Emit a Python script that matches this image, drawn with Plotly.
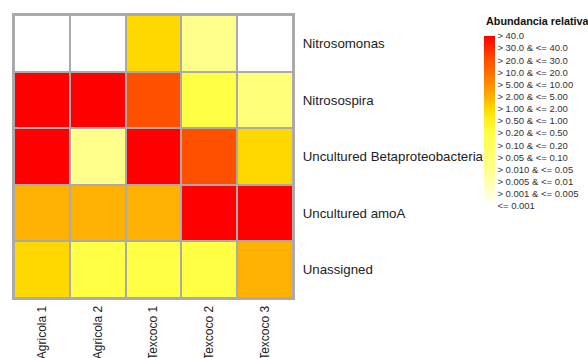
import numpy as np
import plotly.graph_objects as go

# Samples (columns) and taxa (rows)
samples = ["Agricola 1", "Agricola 2", "Texcoco 1", "Texcoco 2", "Texcoco 3"]
taxa = ["Nitrosomonas", "Nitrosospira", "Uncultured Betaproteobacteria",
        "Uncultured amoA", "Unassigned"]

# Relative abundance (%) per taxon, one list per row
nitrosomonas = [0.0005, 0.0005, 1.5, 0.03, 0.0005]
nitrosospira = [55.0, 52.0, 25.0, 0.3, 0.08]
betaproteobacteria = [48.0, 0.03, 50.0, 25.0, 1.5]
amoa = [3.0, 3.0, 3.0, 42.0, 45.0]
unassigned = [1.5, 0.3, 0.3, 0.3, 3.0]

# Class boundaries of the abundance scale and their labels (low -> high)
bin_edges = [0.001, 0.005, 0.01, 0.05, 0.10, 0.20, 0.50, 1.00, 2.00, 5.00,
             10.0, 20.0, 30.0, 40.0]
bin_labels = ["<= 0.001", "> 0.001 & <= 0.005", "> 0.005 & <= 0.01",
              "> 0.010 & <= 0.05", "> 0.05 & <= 0.10", "> 0.10 & <= 0.20",
              "> 0.20 & <= 0.50", "> 0.50 & <= 1.00", "> 1.00 & <= 2.00",
              "> 2.00 & <= 5.00", "> 5.00 & <= 10.00", "> 10.0 & <= 20.0",
              "> 20.0 & <= 30.0", "> 30.0 & <= 40.0", "> 40.0"]
bin_colors = ["#FFFFFF", "#FFFFD8", "#FFFFB0", "#FFFF8C", "#FFFF78", "#FFFF5A",
              "#FFFF44", "#FFF020", "#FFD800", "#FFB000", "#FF8E00", "#FF6C00",
              "#FF5000", "#FF2800", "#FF0000"]

values = np.array([nitrosomonas, nitrosospira, betaproteobacteria, amoa, unassigned])
# Class index of each cell (value <= edge belongs to the lower class)
classes = np.searchsorted(bin_edges, values, side="left")

n = len(bin_labels)
colorscale = [[i / (n - 1), c] for i, c in enumerate(bin_colors)]

hover = [[f"{taxa[r]}<br>{samples[c]}<br>{values[r, c]}" for c in range(len(samples))]
         for r in range(len(taxa))]

FONT = "Liberation Sans, Arial, sans-serif"

fig = go.Figure(go.Heatmap(
    z=classes,
    x=samples,
    y=taxa,
    text=hover,
    hoverinfo="text",
    colorscale=colorscale,
    zmin=0,
    zmax=n - 1,
    xgap=2,
    ygap=2,
    colorbar=dict(
        x=1.6855,
        xanchor="left",
        y=0.926,
        yanchor="top",
        lenmode="pixels",
        len=170,
        thicknessmode="pixels",
        thickness=11,
        outlinewidth=0,
        xpad=0,
        ypad=0,
        tickmode="array",
        tickvals=list(range(n)),
        ticktext=bin_labels,
        ticks="",
        tickfont=dict(family=FONT, size=9.5, color="#333333"),
    ),
))

fig.add_annotation(
    text="<b>Abundancia relativa</b>",
    xref="paper", yref="paper",
    x=1.685, y=0.980, xanchor="left", yanchor="middle",
    showarrow=False,
    font=dict(family=FONT, size=10.8, color="#111111"),
)

fig.update_layout(
    width=588,
    height=358,
    margin=dict(l=14, r=291, t=15, b=60),
    paper_bgcolor="white",
    plot_bgcolor="#AAAAAA",
    font=dict(family=FONT, size=13, color="#222222"),
    xaxis=dict(
        tickangle=-90,
        showgrid=False,
        zeroline=False,
        ticks="",
        showline=True,
        linecolor="#AAAAAA",
        linewidth=2,
        mirror=True,
        automargin=False,
        ticklabelstandoff=1,
        tickfont=dict(size=12, color="#222222"),
    ),
    yaxis=dict(
        side="right",
        autorange="reversed",
        showgrid=False,
        zeroline=False,
        ticks="",
        showline=True,
        linecolor="#AAAAAA",
        linewidth=2,
        mirror=True,
        automargin=False,
        ticklabelstandoff=5,
        tickfont=dict(size=13.3, color="#222222"),
    ),
)

fig.write_html("out.html")
